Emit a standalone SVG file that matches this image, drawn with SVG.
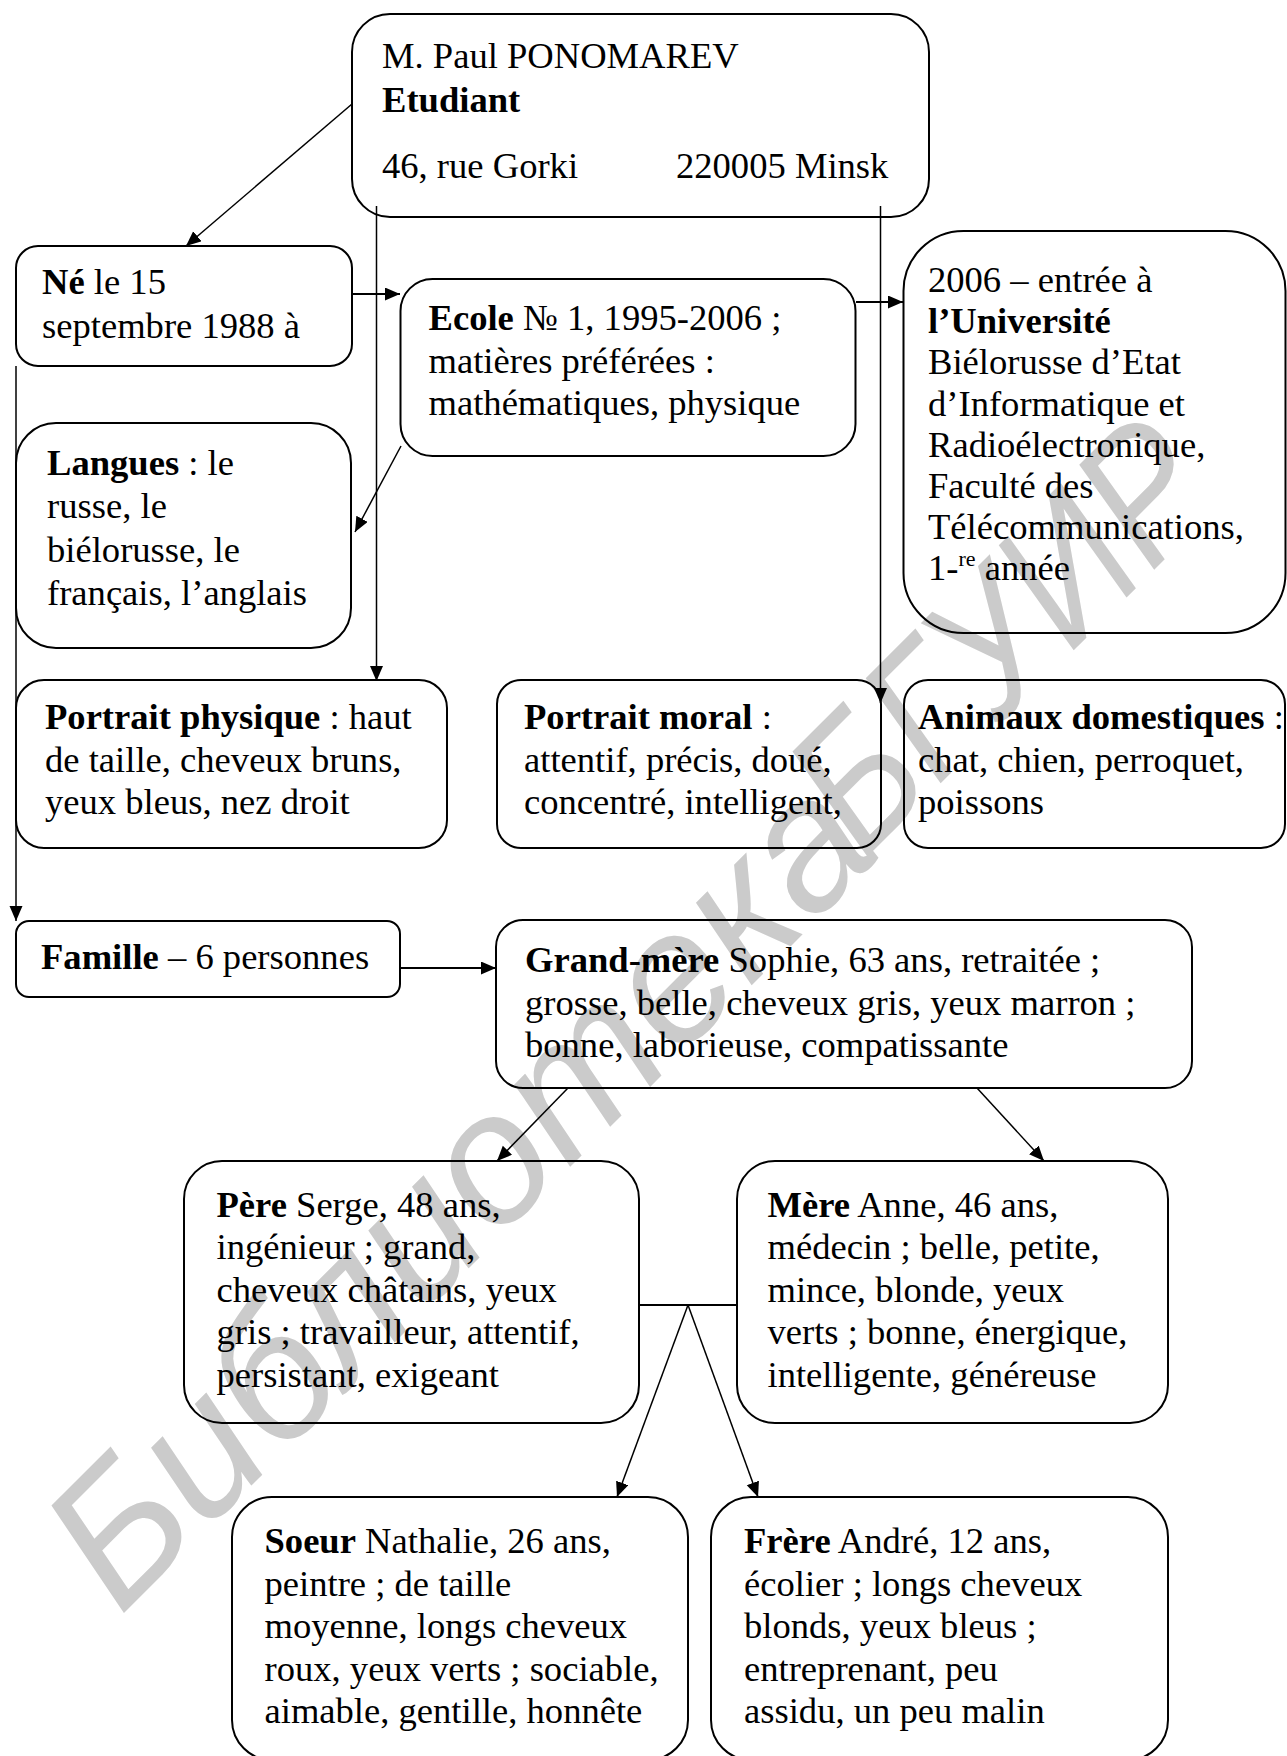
<svg xmlns="http://www.w3.org/2000/svg" width="1287" height="1756" viewBox="0 0 1287 1756">
<style>
text{font-family:"Liberation Serif","Times New Roman",serif;font-size:36.6px;fill:#000}
.b{font-weight:bold}
.box{fill:none;stroke:#000;stroke-width:2}
.ln{fill:none;stroke:#000;stroke-width:1.5}
.lt{fill:none;stroke:#000;stroke-width:2.2}
.wm{font-family:"Liberation Sans",Arial,sans-serif;font-style:italic;font-size:185px;fill:#cbcbcb}
</style>
<defs>
<marker id="ah" markerUnits="userSpaceOnUse" markerWidth="16" markerHeight="14" refX="15" refY="6.5" orient="auto">
<path d="M0,0 L15,6.5 L0,13 z" fill="#000"/>
</marker>
</defs>
<rect width="1287" height="1756" fill="#fff"/>
<g id="watermark">
<text class="wm" transform="translate(120,1617) rotate(-45)">Библиотека</text>
<text class="wm" transform="translate(864,860) rotate(-45) scale(0.86,1)">БГУИР</text>
</g>

<g id="connectors">
<line class="ln" x1="352" y1="104" x2="186" y2="246" marker-end="url(#ah)"/>
<line class="ln" x1="376.5" y1="206" x2="376.5" y2="681" marker-end="url(#ah)"/>
<line class="ln" x1="880.5" y1="206" x2="880.5" y2="703" marker-end="url(#ah)"/>
<line class="lt" x1="352" y1="294" x2="400" y2="294" marker-end="url(#ah)"/>
<line class="lt" x1="856" y1="302" x2="903" y2="302" marker-end="url(#ah)"/>
<line class="ln" x1="401" y1="446" x2="355" y2="532" marker-end="url(#ah)"/>
<line class="ln" x1="16" y1="366" x2="16" y2="921" marker-end="url(#ah)"/>
<line class="lt" x1="400" y1="968" x2="496" y2="968" marker-end="url(#ah)"/>
<line class="ln" x1="568" y1="1088" x2="497" y2="1161" marker-end="url(#ah)"/>
<line class="ln" x1="977" y1="1088" x2="1044" y2="1161" marker-end="url(#ah)"/>
<line class="lt" x1="639" y1="1305" x2="737" y2="1305"/>
<line class="ln" x1="688" y1="1305" x2="617" y2="1497" marker-end="url(#ah)"/>
<line class="ln" x1="688" y1="1305" x2="758" y2="1497" marker-end="url(#ah)"/>
</g>

<g id="n-etudiant">
<rect class="box" x="352" y="14" width="577" height="203" rx="38"/>
<text x="382" y="68">M. Paul PONOMAREV</text>
<text x="382" y="112" class="b">Etudiant</text>
<text x="382" y="178">46, rue Gorki</text>
<text x="676" y="178">220005 Minsk</text>
</g>

<g id="n-ne">
<rect class="box" x="16" y="246" width="336" height="120" rx="22"/>
<text x="42" y="294"><tspan class="b">Né</tspan> le 15</text>
<text x="42" y="338">septembre 1988 à</text>
</g>

<g id="n-ecole">
<rect class="box" x="400.5" y="279" width="455" height="177" rx="32"/>
<text x="428.5" y="330"><tspan class="b">Ecole</tspan> № 1, 1995-2006 ;</text>
<text x="428.5" y="373">matières préférées :</text>
<text x="428.5" y="415">mathématiques, physique</text>
</g>

<g id="n-universite">
<rect class="box" x="903.5" y="231" width="382" height="402" rx="60"/>
<text x="928" y="292">2006 – entrée à</text>
<text x="928" y="333.2" class="b">l’Université</text>
<text x="928" y="374.4">Biélorusse d’Etat</text>
<text x="928" y="415.6">d’Informatique et</text>
<text x="928" y="456.8">Radioélectronique,</text>
<text x="928" y="498">Faculté des</text>
<text x="928" y="539.2">Télécommunications,</text>
<text x="928" y="580.4">1-<tspan dy="-14" font-size="22">re</tspan><tspan dy="14"> année</tspan></text>
</g>

<g id="n-langues">
<rect class="box" x="16" y="423" width="335" height="225" rx="40"/>
<text x="47" y="475"><tspan class="b">Langues</tspan> : le</text>
<text x="47" y="518">russe, le</text>
<text x="47" y="562">biélorusse, le</text>
<text x="47" y="605">français, l’anglais</text>
</g>

<g id="n-portrait-physique">
<rect class="box" x="16" y="680" width="431" height="168" rx="28"/>
<text x="45" y="729"><tspan class="b">Portrait physique</tspan> : haut</text>
<text x="45" y="771.5">de taille, cheveux bruns,</text>
<text x="45" y="814">yeux bleus, nez droit</text>
</g>

<g id="n-portrait-moral">
<rect class="box" x="497" y="680" width="384" height="168" rx="24"/>
<text x="524" y="729"><tspan class="b">Portrait moral</tspan> :</text>
<text x="524" y="771.5">attentif, précis, doué,</text>
<text x="524" y="814">concentré, intelligent,</text>
</g>

<g id="n-animaux">
<rect class="box" x="904" y="680" width="381" height="168" rx="24"/>
<text x="918" y="729"><tspan class="b">Animaux domestiques</tspan> :</text>
<text x="918" y="771.5">chat, chien, perroquet,</text>
<text x="918" y="814">poissons</text>
</g>

<g id="n-famille">
<rect class="box" x="16" y="921" width="384" height="76" rx="13"/>
<text x="41" y="969"><tspan class="b">Famille</tspan> – 6 personnes</text>
</g>

<g id="n-grand-mere">
<rect class="box" x="496" y="920" width="696" height="168" rx="27"/>
<text x="525" y="972"><tspan class="b">Grand-mère</tspan> Sophie, 63 ans, retraitée ;</text>
<text x="525" y="1014.5">grosse, belle, cheveux gris, yeux marron ;</text>
<text x="525" y="1057">bonne, laborieuse, compatissante</text>
</g>

<g id="n-pere">
<rect class="box" x="184" y="1161" width="455" height="262" rx="38"/>
<text x="216.5" y="1216.5"><tspan class="b">Père</tspan> Serge, 48 ans,</text>
<text x="216.5" y="1259">ingénieur ; grand,</text>
<text x="216.5" y="1301.5">cheveux châtains, yeux</text>
<text x="216.5" y="1344">gris ; travailleur, attentif,</text>
<text x="216.5" y="1386.5">persistant, exigeant</text>
</g>

<g id="n-mere">
<rect class="box" x="737" y="1161" width="431" height="262" rx="38"/>
<text x="767.5" y="1216.5"><tspan class="b">Mère</tspan> Anne, 46 ans,</text>
<text x="767.5" y="1259">médecin ; belle, petite,</text>
<text x="767.5" y="1301.5">mince, blonde, yeux</text>
<text x="767.5" y="1344">verts ; bonne, énergique,</text>
<text x="767.5" y="1386.5">intelligente, généreuse</text>
</g>

<g id="n-soeur">
<rect class="box" x="232" y="1497" width="456" height="263" rx="40"/>
<text x="264.5" y="1553"><tspan class="b">Soeur</tspan> Nathalie, 26 ans,</text>
<text x="264.5" y="1595.5">peintre ; de taille</text>
<text x="264.5" y="1638">moyenne, longs cheveux</text>
<text x="264.5" y="1680.5">roux, yeux verts ; sociable,</text>
<text x="264.5" y="1723">aimable, gentille, honnête</text>
</g>

<g id="n-frere">
<rect class="box" x="711" y="1497" width="457" height="263" rx="40"/>
<text x="744" y="1553"><tspan class="b">Frère</tspan> André, 12 ans,</text>
<text x="744" y="1595.5">écolier ; longs cheveux</text>
<text x="744" y="1638">blonds, yeux bleus ;</text>
<text x="744" y="1680.5">entreprenant, peu</text>
<text x="744" y="1723">assidu, un peu malin</text>
</g>
</svg>
